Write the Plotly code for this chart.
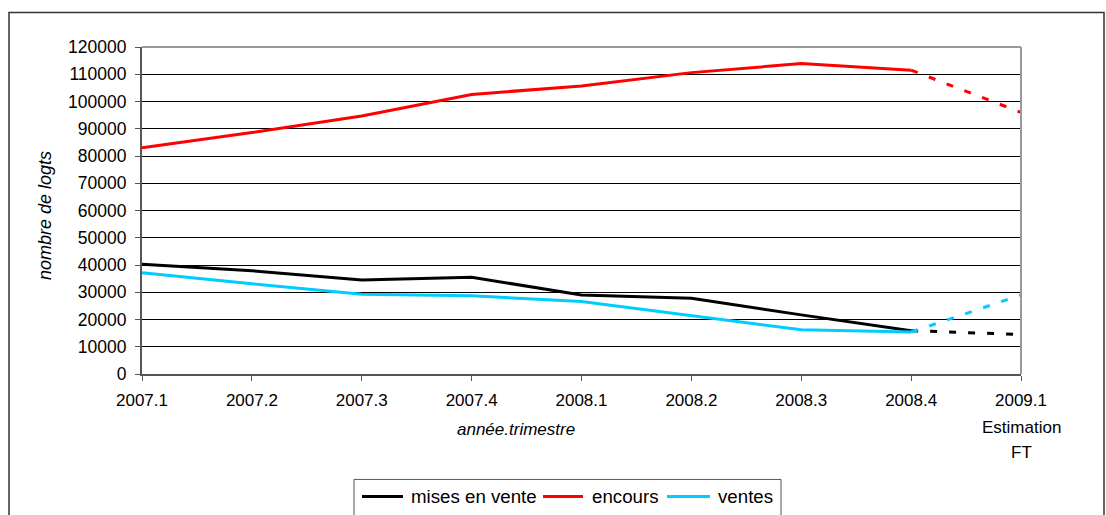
import plotly.graph_objects as go

quarters = ["2007.1", "2007.2", "2007.3", "2007.4", "2008.1", "2008.2", "2008.3", "2008.4", "2009.1"]
mises_en_vente = [40300, 37900, 34500, 35500, 29000, 27800, 21700, 15900, 14500]
encours = [83000, 88600, 94700, 102600, 105700, 110600, 113900, 111500, 96000]
ventes = [37200, 33100, 29300, 28700, 26600, 21500, 16200, 15400, 29000]
y_ticks = list(range(0, 120001, 10000))

FONT = "Arial, Liberation Sans, sans-serif"
series = [
    ("mises en vente", mises_en_vente, "#000000"),
    ("encours", encours, "#ff0000"),
    ("ventes", ventes, "#00ccff"),
]

# pixel -> paper helpers (plot area: x 142..1021, y 46.5..374.3)
PL, PR, PT, PB = 142, 1021, 46.5, 374.3
def px(x):
    return (x - PL) / (PR - PL)
def py(y):
    return (PB - y) / (PB - PT)

xs = list(range(len(quarters)))
fig = go.Figure()
for name, vals, color in series:
    fig.add_trace(go.Scatter(
        x=xs[:8], y=vals[:8], mode="lines", name=name,
        line=dict(color=color, width=3), showlegend=False))
for name, vals, color in series:
    fig.add_trace(go.Scatter(
        x=xs[7:], y=vals[7:], mode="lines", name=name + " (estimation)",
        line=dict(color=color, width=3, dash="7px,12px"), showlegend=False))

# manual legend (line sample + label)
legend_items = [
    (series[0], 362, 403, 409),
    (series[1], 543, 583, 590),
    (series[2], 667, 710, 716),
]
legend_y = 497

shapes = [
    dict(type="line", xref="paper", yref="paper", x0=0, x1=1, y0=1, y1=1,
         line=dict(color="#999999", width=2)),
    dict(type="line", xref="paper", yref="paper", x0=1, x1=1, y0=0, y1=1,
         line=dict(color="#999999", width=2)),
    dict(type="rect", xref="paper", yref="paper", x0=px(9), x1=px(1104),
         y0=py(560), y1=py(12), line=dict(color="#333333", width=1.5),
         layer="below"),
    dict(type="rect", xref="paper", yref="paper", x0=px(354), x1=px(781),
         y0=py(560), y1=py(480), line=dict(color="#555555", width=1),
         layer="below"),
]
annotations = [
    dict(text="<i>nombre de logts</i>", xref="paper", yref="paper",
         x=px(45), y=py(216), textangle=-90, showarrow=False,
         font=dict(family=FONT, size=18, color="#000000"),
         xanchor="center", yanchor="middle"),
    dict(text="<i>année.trimestre</i>", xref="paper", yref="paper",
         x=px(516), y=py(430), showarrow=False,
         font=dict(family=FONT, size=17, color="#000000"),
         xanchor="center", yanchor="middle"),
    dict(text="Estimation", xref="paper", yref="paper",
         x=1, y=py(428), showarrow=False,
         font=dict(family=FONT, size=17, color="#000000"),
         xanchor="center", yanchor="middle"),
    dict(text="FT", xref="paper", yref="paper",
         x=1, y=py(453), showarrow=False,
         font=dict(family=FONT, size=17, color="#000000"),
         xanchor="center", yanchor="middle"),
]
for (name, vals, color), x0, x1, tx in legend_items:
    shapes.append(dict(type="line", xref="paper", yref="paper",
                       x0=px(x0), x1=px(x1), y0=py(legend_y), y1=py(legend_y),
                       line=dict(color=color, width=3)))
    annotations.append(dict(text=name, xref="paper", yref="paper",
                            x=px(tx), y=py(legend_y), showarrow=False,
                            font=dict(family=FONT, size=18.7, color="#000000"),
                            xanchor="left", yanchor="middle"))

fig.update_layout(
    width=1106, height=515,
    margin=dict(l=PL, r=1106 - PR, t=PT, b=515 - PB, autoexpand=False),
    paper_bgcolor="white", plot_bgcolor="white",
    font=dict(family=FONT, size=17, color="#000000"),
    showlegend=False,
    xaxis=dict(
        range=[0, 8], tickmode="array", tickvals=xs, ticktext=quarters,
        showgrid=False, zeroline=False,
        showline=True, linecolor="#555555", linewidth=2,
        ticks="outside", ticklen=5, tickcolor="#555555", tickwidth=1,
        tickfont=dict(family=FONT, size=17, color="#000000"),
        ticklabelstandoff=5,
    ),
    yaxis=dict(
        range=[0, 120000], tickmode="array", tickvals=y_ticks, tickformat="d",
        showgrid=True, gridcolor="#000000", gridwidth=1,
        zeroline=False,
        showline=True, linecolor="#555555", linewidth=2,
        ticks="outside", ticklen=5, tickcolor="#555555", tickwidth=1,
        tickfont=dict(family=FONT, size=17.5, color="#000000"),
        ticklabelstandoff=5,
    ),
    shapes=shapes,
    annotations=annotations,
)

fig.write_html("out.html")
